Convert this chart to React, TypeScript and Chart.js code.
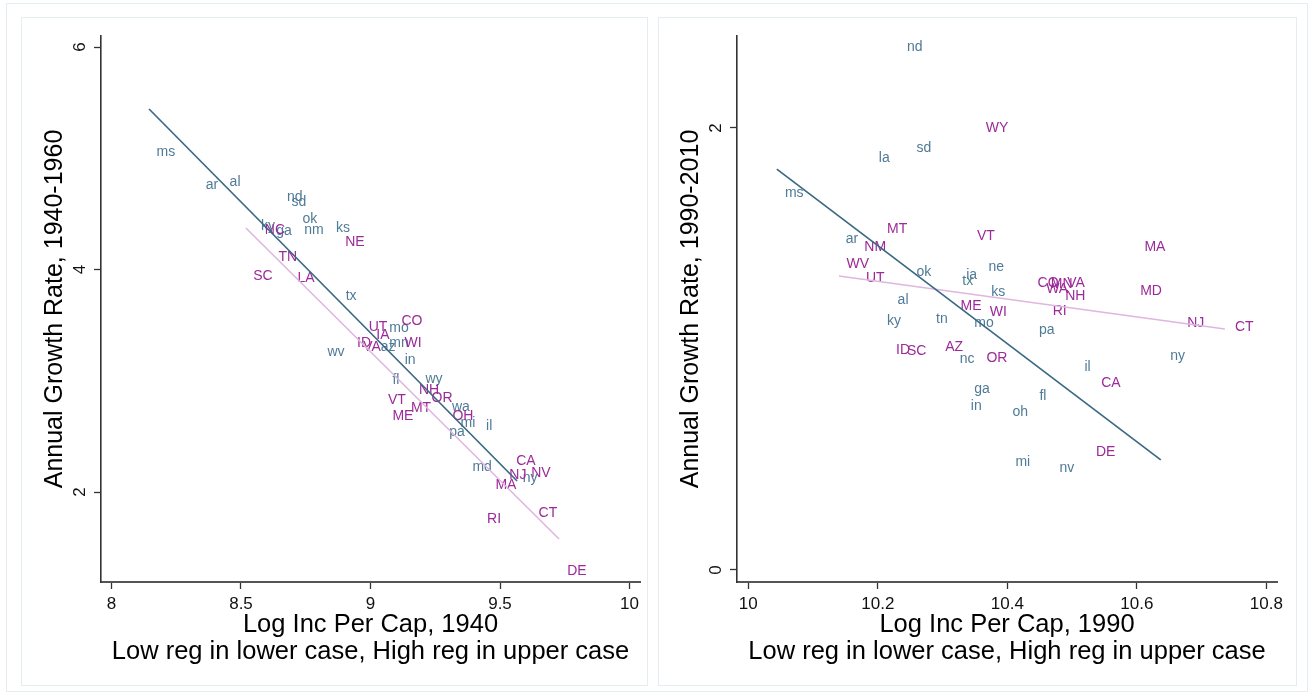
import React, { useEffect, useRef } from "react";
import { Chart, registerables } from "chart.js";

Chart.register(...registerables);

const FONT = "'Liberation Sans', Arial, Helvetica, sans-serif";
const LOW_COLOR = "#4f7b97";
const HIGH_COLOR = "#9c2a98";
const LOW_LINE = "#3b6984";
const HIGH_LINE = "#e0b6e0";
const FRAME = "#e4edef";

// ---------- Panel 1: 1940-1960 ----------
const low1940States = ["ms", "ar", "al", "nd", "sd", "ok", "ky", "ga", "nm", "ks", "tx", "mo", "az", "mn", "wv", "in", "fl", "wy", "wa", "mi", "pa", "il", "md", "ny"];
const low1940X = [8.210, 8.388, 8.477, 8.708, 8.724, 8.766, 8.604, 8.666, 8.782, 8.894, 8.925, 9.110, 9.068, 9.110, 8.867, 9.153, 9.098, 9.245, 9.349, 9.376, 9.334, 9.458, 9.431, 9.616];
const low1940Y = [5.056, 4.760, 4.787, 4.652, 4.607, 4.454, 4.391, 4.346, 4.355, 4.373, 3.762, 3.474, 3.303, 3.339, 3.258, 3.187, 3.007, 3.016, 2.764, 2.620, 2.539, 2.593, 2.225, 2.126];

const high1940States = ["NC", "NE", "TN", "SC", "LA", "CO", "UT", "IA", "ID", "VA", "WI", "NH", "OR", "VT", "MT", "ME", "OH", "CA", "NJ", "NV", "MA", "CT", "RI", "DE"];
const high1940X = [8.631, 8.940, 8.681, 8.585, 8.751, 9.160, 9.029, 9.048, 8.975, 9.006, 9.164, 9.226, 9.276, 9.102, 9.195, 9.125, 9.357, 9.600, 9.569, 9.658, 9.523, 9.685, 9.477, 9.797];
const high1940Y = [4.355, 4.247, 4.112, 3.942, 3.924, 3.537, 3.483, 3.411, 3.339, 3.303, 3.339, 2.917, 2.845, 2.827, 2.755, 2.683, 2.683, 2.279, 2.153, 2.171, 2.063, 1.811, 1.757, 1.290];

const fitLow1940X = [8.145, 9.566];
const fitLow1940Y = [5.443, 2.099];
const fitHigh1940X = [8.519, 9.728];
const fitHigh1940Y = [4.373, 1.578];

const xTicks1940 = [8, 8.5, 9, 9.5, 10];
const yTicks1940 = [2, 4, 6];

// ---------- Panel 2: 1990-2010 ----------
const low1990States = ["nd", "sd", "la", "ms", "ar", "ne", "ok", "ia", "tx", "ks", "al", "ky", "tn", "mo", "pa", "nc", "il", "ga", "in", "oh", "fl", "mi", "nv", "ny"];
const low1990X = [10.257, 10.271, 10.210, 10.071, 10.160, 10.383, 10.271, 10.345, 10.339, 10.386, 10.239, 10.225, 10.299, 10.364, 10.461, 10.338, 10.524, 10.361, 10.352, 10.420, 10.455, 10.424, 10.492, 10.663];
const low1990Y = [2.367, 1.910, 1.864, 1.706, 1.498, 1.371, 1.348, 1.335, 1.308, 1.258, 1.222, 1.127, 1.136, 1.118, 1.086, 0.955, 0.919, 0.819, 0.742, 0.715, 0.787, 0.489, 0.462, 0.968];

const high1990States = ["WY", "MT", "VT", "NM", "MA", "WV", "UT", "CO", "MN", "VA", "WA", "NH", "MD", "ME", "WI", "RI", "NJ", "CT", "ID", "SC", "AZ", "OR", "CA", "DE"];
const high1990X = [10.384, 10.230, 10.367, 10.196, 10.628, 10.169, 10.196, 10.463, 10.484, 10.506, 10.477, 10.505, 10.622, 10.344, 10.386, 10.481, 10.691, 10.766, 10.239, 10.260, 10.318, 10.384, 10.560, 10.552];
const high1990Y = [2.000, 1.543, 1.511, 1.462, 1.462, 1.385, 1.321, 1.299, 1.294, 1.299, 1.271, 1.240, 1.262, 1.195, 1.167, 1.172, 1.118, 1.100, 0.995, 0.991, 1.009, 0.959, 0.846, 0.534];

const fitLow1990X = [10.044, 10.637];
const fitLow1990Y = [1.814, 0.498];
const fitHigh1990X = [10.140, 10.736];
const fitHigh1990Y = [1.330, 1.090];

const xTicks1990 = [10, 10.2, 10.4, 10.6, 10.8];
const yTicks1990 = [0, 2];

const subtitle = "Low reg in lower case, High reg in upper case";

type PanelCfg = {
  left: number; top: number; width: number; height: number;
  padTop: number; padRight: number; yWidth: number; xHeight: number;
  yTitlePad: number;
  xMin: number; xMax: number; yMin: number; yMax: number;
  xTicks: number[]; yTicks: number[];
  xTitle: string[]; yTitle: string;
  lowStates: string[]; lowX: number[]; lowY: number[];
  highStates: string[]; highX: number[]; highY: number[];
  fitLowX: number[]; fitLowY: number[]; fitHighX: number[]; fitHighY: number[];
};

const panel1940: PanelCfg = {
  left: 21, top: 17, width: 626, height: 668,
  padTop: 19, padRight: 7, yWidth: 80, xHeight: 103, yTitlePad: 21,
  xMin: 7.9595, xMax: 10.0405, yMin: 1.191, yMax: 6.099,
  xTicks: xTicks1940, yTicks: yTicks1940,
  xTitle: ["Log Inc Per Cap, 1940", subtitle], yTitle: "Annual Growth Rate, 1940-1960",
  lowStates: low1940States, lowX: low1940X, lowY: low1940Y,
  highStates: high1940States, highX: high1940X, highY: high1940Y,
  fitLowX: fitLow1940X, fitLowY: fitLow1940Y, fitHighX: fitHigh1940X, fitHighY: fitHigh1940Y,
};

const panel1990: PanelCfg = {
  left: 658, top: 17, width: 638, height: 668,
  padTop: 19, padRight: 19, yWidth: 79, xHeight: 103, yTitlePad: 20,
  xMin: 9.98255, xMax: 10.8165, yMin: -0.0543, yMax: 2.416,
  xTicks: xTicks1990, yTicks: yTicks1990,
  xTitle: ["Log Inc Per Cap, 1990", subtitle], yTitle: "Annual Growth Rate, 1990-2010",
  lowStates: low1990States, lowX: low1990X, lowY: low1990Y,
  highStates: high1990States, highX: high1990X, highY: high1990Y,
  fitLowX: fitLow1990X, fitLowY: fitLow1990Y, fitHighX: fitHigh1990X, fitHighY: fitHigh1990Y,
};

const stateLabelPlugin = {
  id: "stateLabels",
  beforeDatasetsDraw(chart: any) {
    const ctx = chart.ctx;
    ctx.save();
    ctx.font = `14px ${FONT}`;
    ctx.textAlign = "center";
    ctx.textBaseline = "middle";
    chart.data.datasets.forEach((ds: any, i: number) => {
      if (!ds.stateLabels) return;
      const meta = chart.getDatasetMeta(i);
      ctx.fillStyle = ds.labelColor;
      meta.data.forEach((el: any, j: number) => {
        ctx.fillText(ds.stateLabels[j], el.x, el.y);
      });
    });
    ctx.restore();
  },
};

const rotatedYTicksPlugin = {
  id: "rotatedYTicks",
  afterDraw(chart: any) {
    const ctx = chart.ctx;
    const ys = chart.scales.y;
    const x = chart.chartArea.left - 21;
    ctx.save();
    ctx.font = `17px ${FONT}`;
    ctx.fillStyle = "#111";
    ctx.textAlign = "center";
    ctx.textBaseline = "middle";
    ys.ticks.forEach((t: any) => {
      const y = ys.getPixelForValue(t.value);
      ctx.save();
      ctx.translate(x, y);
      ctx.rotate(-Math.PI / 2);
      ctx.fillText(String(t.value), 0, 0);
      ctx.restore();
    });
    ctx.restore();
  },
};

function Panel({ cfg }: { cfg: PanelCfg }) {
  const ref = useRef<HTMLCanvasElement>(null);
  useEffect(() => {
    const c = cfg;
    const chart = new Chart(ref.current as HTMLCanvasElement, {
      type: "scatter",
      data: {
        datasets: [
          {
            label: "low",
            data: c.lowX.map((x, i) => ({ x, y: c.lowY[i] })),
            pointRadius: 0, pointHoverRadius: 0, showLine: false,
            stateLabels: c.lowStates, labelColor: LOW_COLOR,
          } as any,
          {
            label: "high",
            data: c.highX.map((x, i) => ({ x, y: c.highY[i] })),
            pointRadius: 0, pointHoverRadius: 0, showLine: false,
            stateLabels: c.highStates, labelColor: HIGH_COLOR,
          } as any,
          {
            label: "fitLow",
            data: c.fitLowX.map((x, i) => ({ x, y: c.fitLowY[i] })),
            showLine: true, borderColor: LOW_LINE, borderWidth: 1.7,
            pointRadius: 0, pointHoverRadius: 0, fill: false,
          },
          {
            label: "fitHigh",
            data: c.fitHighX.map((x, i) => ({ x, y: c.fitHighY[i] })),
            showLine: true, borderColor: HIGH_LINE, borderWidth: 1.6,
            pointRadius: 0, pointHoverRadius: 0, fill: false,
          },
        ],
      },
      options: {
        animation: false,
        responsive: false,
        events: [],
        layout: { padding: { left: 0, top: c.padTop, right: c.padRight, bottom: 0 } },
        plugins: { legend: { display: false }, tooltip: { enabled: false } },
        scales: {
          x: {
            type: "linear",
            min: c.xMin, max: c.xMax, bounds: "data",
            afterBuildTicks: (s: any) => { s.ticks = c.xTicks.map((v) => ({ value: v })); },
            afterFit: (s: any) => { s.height = c.xHeight; },
            grid: { display: true, drawOnChartArea: false, drawTicks: true, tickLength: 7, tickColor: "#333", tickWidth: 1.3 },
            border: { display: true, color: "#555", width: 2 },
            ticks: {
              display: true, color: "#111", padding: 5, maxRotation: 0, autoSkip: false,
              font: { family: FONT, size: 17 },
              callback: (v: any) => String(v),
            },
            title: {
              display: true, text: c.xTitle, color: "#000",
              font: { family: FONT, size: 25.5, lineHeight: 1.07 },
              padding: { top: 0, bottom: 19.5 },
            },
          },
          y: {
            type: "linear",
            min: c.yMin, max: c.yMax, bounds: "data",
            afterBuildTicks: (s: any) => { s.ticks = c.yTicks.map((v) => ({ value: v })); },
            afterFit: (s: any) => { s.width = c.yWidth; },
            grid: { display: true, drawOnChartArea: false, drawTicks: true, tickLength: 7, tickColor: "#333", tickWidth: 1.3 },
            border: { display: true, color: "#333", width: 1.6 },
            ticks: { display: false },
            title: {
              display: true, text: c.yTitle, color: "#000",
              font: { family: FONT, size: 25, lineHeight: 1.04 },
              padding: { top: c.yTitlePad, bottom: 0 },
            },
          },
        },
      } as any,
      plugins: [stateLabelPlugin, rotatedYTicksPlugin],
    });
    return () => chart.destroy();
  }, [cfg]);
  return (
    <canvas
      ref={ref}
      width={cfg.width}
      height={cfg.height}
      style={{ position: "absolute", left: cfg.left, top: cfg.top, width: cfg.width, height: cfg.height }}
    />
  );
}

function Box({ l, t, r, b }: { l: number; t: number; r: number; b: number }) {
  return (
    <div
      style={{
        position: "absolute", left: l, top: t, width: r - l, height: b - t,
        border: `1px solid ${FRAME}`, boxSizing: "border-box",
      }}
    />
  );
}

export default function App() {
  return (
    <div style={{ position: "absolute", left: 0, top: 0, width: 1314, height: 696, background: "#fff", overflow: "hidden" }}>
      <Box l={6} t={3} r={1308} b={692} />
      <Box l={21} t={17} r={648} b={686} />
      <Box l={658} t={17} r={1297} b={686} />
      <Panel cfg={panel1940} />
      <Panel cfg={panel1990} />
    </div>
  );
}
